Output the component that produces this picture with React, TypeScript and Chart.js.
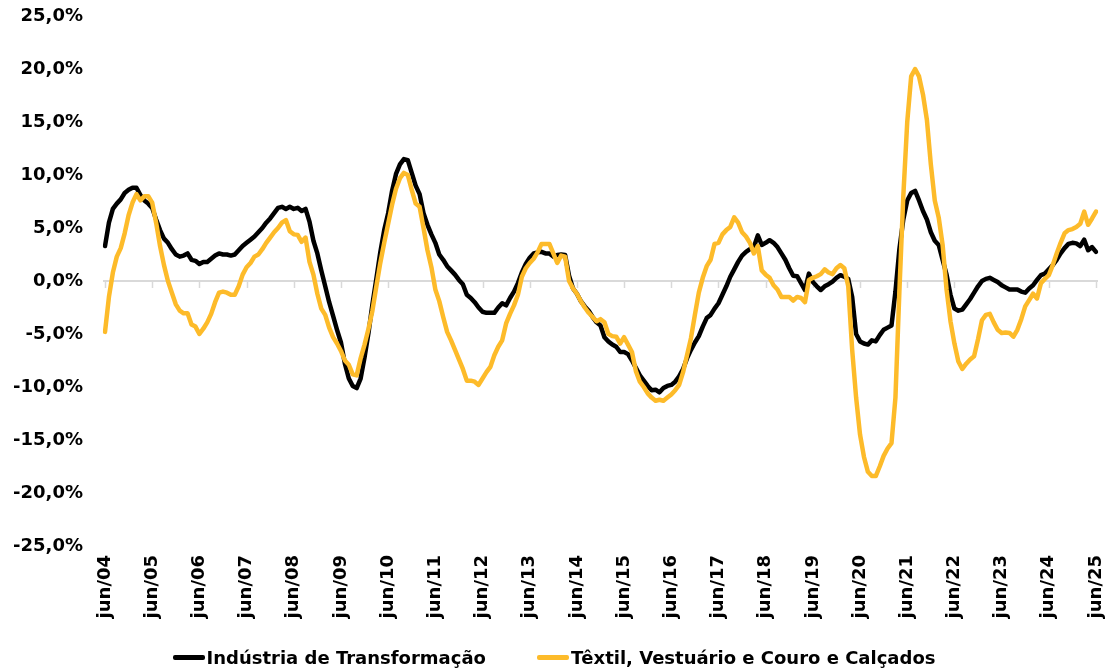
import React, { useEffect, useRef } from "react";
import { Chart, registerables } from "chart.js";

Chart.register(...registerables);

const MONTH_ABBR = ["jan", "fev", "mar", "abr", "mai", "jun", "jul", "ago", "set", "out", "nov", "dez"];
const N_MONTHS = 253; // jun/04 .. jun/25
const CATEGORIES: string[] = Array.from({ length: N_MONTHS }, (_, i) => {
  const k = 5 + i;
  const mi = k % 12;
  const yr = 4 + Math.floor(k / 12);
  return `${MONTH_ABBR[mi]}/${String(yr).padStart(2, "0")}`;
});

const SERIES_NAMES = ["Indústria de Transformação", "Têxtil, Vestuário e Couro e Calçados"];

const INDUSTRIA: number[] = [
  3.3, 5.5, 6.8, 7.3, 7.7, 8.3, 8.6, 8.8, 8.8, 8.1, 7.6, 7.3,
  6.9, 5.8, 4.8, 4.0, 3.6, 3.0, 2.5, 2.3, 2.4, 2.6, 2.0, 1.9,
  1.6, 1.8, 1.8, 2.1, 2.4, 2.6, 2.5, 2.5, 2.4, 2.5, 2.9, 3.3,
  3.6, 3.9, 4.2, 4.6, 5.0, 5.5, 5.9, 6.4, 6.9, 7.0, 6.8, 7.0,
  6.8, 6.9, 6.6, 6.8, 5.6, 3.8, 2.6, 1.0, -0.5, -2.0, -3.3, -4.6,
  -5.8, -7.8, -9.2, -9.9, -10.1, -9.2, -7.2, -4.9, -2.2, 0.2, 2.7, 4.8,
  6.4, 8.5, 10.1, 11.0, 11.5, 11.4, 10.2, 9.0, 8.2, 6.4, 5.3, 4.4,
  3.6, 2.5, 2.0, 1.4, 1.0, 0.6, 0.1, -0.3, -1.3, -1.6, -2.0, -2.5,
  -2.9, -3.0, -3.0, -3.0, -2.5, -2.1, -2.3, -1.6, -1.0, -0.2, 0.8, 1.6,
  2.2, 2.6, 2.7, 2.75, 2.6, 2.6, 2.3, 2.45, 2.5, 2.45, 0.5, -0.7,
  -1.2, -1.9, -2.4, -2.8, -3.4, -3.9, -4.2, -5.3, -5.7, -6.0, -6.2, -6.7,
  -6.7, -6.9, -7.5, -8.2, -8.9, -9.4, -9.9, -10.3, -10.25, -10.5, -10.1, -9.9,
  -9.8, -9.5, -9.0, -8.3, -7.3, -6.5, -5.8, -5.2, -4.3, -3.5, -3.2, -2.6,
  -2.1, -1.3, -0.5, 0.4, 1.1, 1.8, 2.4, 2.75, 3.0, 3.2, 4.3, 3.4,
  3.6, 3.85, 3.6, 3.2, 2.6, 2.0, 1.2, 0.5, 0.45, -0.2, -0.85, 0.7,
  -0.1, -0.5, -0.85, -0.5, -0.3, -0.05, 0.3, 0.55, 0.4, 0.2, -1.5, -5.0,
  -5.7, -5.9, -6.0, -5.6, -5.7, -5.1, -4.6, -4.4, -4.2, -1.0, 3.0, 5.8,
  7.6, 8.3, 8.5, 7.6, 6.6, 5.8, 4.6, 3.8, 3.4, 2.0, 0.6, -1.3,
  -2.6, -2.8, -2.7, -2.2, -1.7, -1.1, -0.5, 0.0, 0.2, 0.3, 0.1, -0.1,
  -0.4, -0.6, -0.8, -0.8, -0.8, -1.0, -1.1, -0.7, -0.4, 0.1, 0.55, 0.7,
  1.1, 1.5, 2.0, 2.6, 3.1, 3.5, 3.6, 3.55, 3.3, 3.9, 2.9, 3.2,
  2.75,
];

const TEXTIL: number[] = [
  -4.8, -1.5, 0.8, 2.3, 3.1, 4.5, 6.2, 7.4, 8.2, 7.6, 8.0, 8.0,
  7.4, 5.5, 3.3, 1.5, 0.0, -1.1, -2.2, -2.8, -3.05, -3.05, -4.1, -4.3,
  -5.0, -4.5, -3.9, -3.1, -2.0, -1.1, -1.0, -1.1, -1.3, -1.3, -0.5, 0.6,
  1.3, 1.7, 2.3, 2.5, 3.0, 3.6, 4.1, 4.6, 5.0, 5.5, 5.75, 4.7,
  4.4, 4.35, 3.7, 4.1, 1.8, 0.6, -1.2, -2.6, -3.2, -4.4, -5.3, -5.9,
  -6.6, -7.5, -7.9, -8.8, -8.9, -7.3, -6.0, -4.5, -2.8, -0.5, 1.7, 3.6,
  5.4, 7.2, 8.7, 9.7, 10.2, 10.0, 8.6, 7.3, 7.0, 5.0, 2.9, 1.3,
  -0.8, -1.9, -3.4, -4.8, -5.6, -6.5, -7.4, -8.3, -9.4, -9.4, -9.5, -9.8,
  -9.2, -8.6, -8.1, -7.0, -6.2, -5.6, -4.0, -3.1, -2.3, -1.3, 0.4, 1.2,
  1.7, 2.1, 2.7, 3.5, 3.5, 3.5, 2.6, 1.7, 2.4, 2.3, 0.0, -0.7,
  -1.2, -1.9, -2.5, -3.0, -3.4, -3.8, -3.6, -3.9, -5.0, -5.2, -5.25, -5.9,
  -5.3, -6.0, -6.7, -8.5, -9.5, -10.0, -10.6, -11.0, -11.3, -11.2, -11.3, -11.0,
  -10.7, -10.3, -9.8, -8.6, -7.0, -5.4, -3.2, -1.1, 0.3, 1.4, 2.0, 3.5,
  3.6, 4.4, 4.8, 5.1, 6.0, 5.5, 4.6, 4.2, 3.6, 2.6, 3.3, 1.0,
  0.6, 0.3, -0.4, -0.8, -1.5, -1.5, -1.5, -1.85, -1.5, -1.6, -2.0, 0.1,
  0.3, 0.45, 0.65, 1.1, 0.8, 0.65, 1.2, 1.5, 1.2, -0.5, -6.5, -11.0,
  -14.5, -16.6, -18.0, -18.4, -18.4, -17.5, -16.5, -15.8, -15.3, -11.0, -1.0, 8.0,
  15.0, 19.3, 20.0, 19.3, 17.6, 15.2, 11.0, 7.6, 6.0, 3.4, -0.8, -3.8,
  -5.9, -7.6, -8.3, -7.8, -7.4, -7.1, -5.5, -3.7, -3.2, -3.1, -3.9, -4.6,
  -4.9, -4.85, -4.9, -5.25, -4.6, -3.6, -2.4, -1.8, -1.2, -1.65, -0.2, 0.2,
  0.55, 1.5, 2.6, 3.6, 4.5, 4.8, 4.9, 5.1, 5.4, 6.55, 5.3, 5.9,
  6.55,
];

const COLORS = ["#000000", "#FDBB2A"];
const Y_MIN = -25;
const Y_MAX = 25;
const Y_STEP = 5;

const FONT_FAMILY = "'DejaVu Sans', sans-serif";

const fmtPct = (v: number) => v.toFixed(1).replace(".", ",") + "%";

const zeroAxisPlugin = {
  id: "zeroAxis",
  beforeDatasetsDraw(chart: any) {
    const { ctx, chartArea, scales } = chart;
    const x = scales.x;
    const y = scales.y;
    const y0 = y.getPixelForValue(0);
    ctx.save();
    ctx.strokeStyle = "#d9d9d9";
    ctx.lineWidth = 2;
    ctx.beginPath();
    ctx.moveTo(chartArea.left - 2, y0);
    ctx.lineTo(chartArea.right + 2, y0);
    ctx.stroke();
    ctx.lineWidth = 1.5;
    ctx.beginPath();
    for (let i = 0; i < CATEGORIES.length; i += 12) {
      const px = Math.round(x.getPixelForValue(i)) + 0.5;
      ctx.moveTo(px, y0);
      ctx.lineTo(px, y0 + 7);
    }
    ctx.stroke();
    ctx.restore();
  },
};

export default function App() {
  const canvasRef = useRef<HTMLCanvasElement | null>(null);

  useEffect(() => {
    document.body.style.margin = "0";
    const canvas = canvasRef.current;
    if (!canvas) return;
    const chart = new Chart(canvas, {
      type: "line",
      data: {
        labels: CATEGORIES,
        datasets: [
          {
            label: SERIES_NAMES[0],
            data: INDUSTRIA,
            borderColor: COLORS[0],
            backgroundColor: COLORS[0],
            borderWidth: 4.5,
            pointRadius: 0,
            tension: 0,
            borderJoinStyle: "round",
            borderCapStyle: "round",
            order: 1,
          },
          {
            label: SERIES_NAMES[1],
            data: TEXTIL,
            borderColor: COLORS[1],
            backgroundColor: COLORS[1],
            borderWidth: 4.5,
            pointRadius: 0,
            tension: 0,
            borderJoinStyle: "round",
            borderCapStyle: "round",
            order: 0,
          },
        ],
      },
      options: {
        responsive: false,
        animation: false,
        devicePixelRatio: 1,
        layout: { padding: { top: 16, right: 19, bottom: 0, left: 0 } },
        plugins: {
          legend: { display: false },
          tooltip: { enabled: false },
        },
        scales: {
          x: {
            type: "category",
            offset: false,
            grid: {
              display: true,
              drawOnChartArea: false,
              drawTicks: true,
              tickLength: 8,
              color: "rgba(0,0,0,0)",
            },
            border: { display: false },
            ticks: {
              autoSkip: false,
              minRotation: 90,
              maxRotation: 90,
              padding: 1,
              color: "#000",
              font: { family: FONT_FAMILY, size: 18, weight: "bold", lineHeight: 1 },
              callback: (_v: any, idx: number) =>
                CATEGORIES[idx].startsWith("jun") ? CATEGORIES[idx] : "",
            },
            afterFit: (scale: any) => {
              scale.height = 671 - 546;
            },
          },
          y: {
            min: Y_MIN,
            max: Y_MAX,
            grid: {
              display: true,
              drawOnChartArea: false,
              drawTicks: true,
              tickLength: 19,
              color: "rgba(0,0,0,0)",
            },
            border: { display: false },
            ticks: {
              stepSize: Y_STEP,
              padding: 3,
              color: "#000",
              font: { family: FONT_FAMILY, size: 18, weight: "bold" },
              callback: (v: any) => fmtPct(Number(v)),
            },
            afterFit: (scale: any) => {
              scale.width = 105;
            },
          },
        },
      },
      plugins: [zeroAxisPlugin],
    });
    return () => chart.destroy();
  }, []);

  const legendText: React.CSSProperties = {
    fontFamily: FONT_FAMILY,
    fontWeight: "bold",
    fontSize: 18,
    color: "#000",
    whiteSpace: "nowrap",
  };

  return (
    <div style={{ position: "relative", width: 1115, height: 671, overflow: "hidden", background: "#fff" }}>
      <canvas ref={canvasRef} width={1115} height={671} style={{ display: "block" }} />
      <div
        style={{
          position: "absolute",
          left: 0,
          right: 0,
          top: 645,
          height: 24,
          display: "flex",
          justifyContent: "center",
          alignItems: "center",
          gap: 51,
          paddingRight: 7,
        }}
      >
        {SERIES_NAMES.map((name, i) => (
          <div key={name} style={{ display: "flex", alignItems: "center", gap: 2 }}>
            <span style={{ display: "inline-block", width: 32, height: 5, borderRadius: 2, background: COLORS[i] }} />
            <span style={legendText}>{name}</span>
          </div>
        ))}
      </div>
    </div>
  );
}
